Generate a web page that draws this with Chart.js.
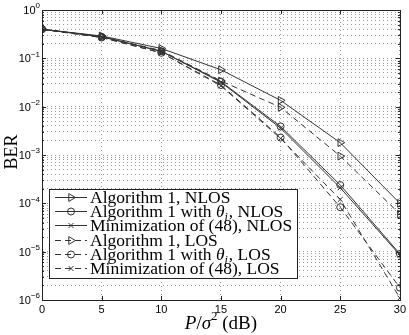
<!DOCTYPE html>
<html>
<head>
<meta charset="utf-8">
<script src="https://cdn.jsdelivr.net/npm/chart.js@4.4.0/dist/chart.umd.min.js"></script>
<style>
html,body{margin:0;padding:0;background:#fff}
canvas{display:block}
</style>
</head>
<body>
<canvas id="berchart" width="409" height="335"></canvas>
<script>
// data
const snr = [0, 5, 10, 15, 20, 25, 30]
const xTicks = [0, 5, 10, 15, 20, 25, 30]
const yTickExps = [0, -1, -2, -3, -4, -5, -6]

const alg1_nlos   = [0.40, 0.29, 0.16, 0.058, 0.0135, 0.0018, 1.0e-4]
const alg1th_nlos = [0.40, 0.28, 0.14, 0.033, 0.0039, 2.4e-4, 9.0e-6]
const min48_nlos  = [0.40, 0.28, 0.14, 0.032, 0.0036, 2.1e-4, 8.5e-6]
const alg1_los    = [0.40, 0.28, 0.145, 0.034, 0.0097, 9.5e-4, 6.0e-5]
const alg1th_los  = [0.40, 0.27, 0.13, 0.028, 0.0023, 8.3e-5, 1.8e-6]
const min48_los   = [0.40, 0.27, 0.13, 0.027, 0.0022, 1.2e-4, 1.1e-6]

const labels = [
  'Algorithm 1, NLOS',
  'Algorithm 1 with θ_i, NLOS',
  'Minimization of (48), NLOS',
  'Algorithm 1, LOS',
  'Algorithm 1 with θ_i, LOS',
  'Minimization of (48), LOS'
]

const lineCol = '#333'
const serif = '"Liberation Serif", "Times New Roman", serif'
const sans = '"Liberation Sans", Arial, sans-serif'

function pts(arr) {
  return snr.map((x, i) => ({ x: x, y: arr[i] }))
}

function makeSet(label, arr, style, dashed) {
  return {
    label: label,
    data: pts(arr),
    borderColor: lineCol,
    borderWidth: 1,
    borderDash: dashed ? [6, 4] : [],
    pointStyle: style,
    pointRotation: style === 'triangle' ? 90 : 0,
    pointRadius: style === 'triangle' ? 4.5 : 3.5,
    pointBorderWidth: 1,
    pointBorderColor: lineCol,
    pointBackgroundColor: 'rgba(0,0,0,0)',
    tension: 0,
    fill: false
  }
}

function drawMarker(ctx, style, x, y, r) {
  ctx.save()
  ctx.setLineDash([])
  ctx.strokeStyle = lineCol
  ctx.lineWidth = 1
  ctx.beginPath()
  if (style === 'triangle') {
    ctx.moveTo(x + r, y)
    ctx.lineTo(x - r / 2, y - r * 0.866)
    ctx.lineTo(x - r / 2, y + r * 0.866)
    ctx.closePath()
  } else if (style === 'circle') {
    ctx.arc(x, y, r, 0, Math.PI * 2)
  } else {
    const d = r * 0.707
    ctx.moveTo(x - d, y - d); ctx.lineTo(x + d, y + d)
    ctx.moveTo(x + d, y - d); ctx.lineTo(x - d, y + d)
  }
  ctx.stroke()
  ctx.restore()
}

function drawLabel(ctx, text, x, y) {
  const parts = text.split('θ_i')
  ctx.fillStyle = '#000'
  ctx.textAlign = 'left'
  ctx.textBaseline = 'alphabetic'
  ctx.font = '17.5px ' + serif
  ctx.fillText(parts[0], x, y)
  if (parts.length < 2) return
  x += ctx.measureText(parts[0]).width
  ctx.font = 'italic 17.5px ' + serif
  ctx.fillText('θ', x, y)
  x += ctx.measureText('θ').width
  ctx.font = 'italic 12px ' + serif
  ctx.fillText('i', x, y + 4)
  x += ctx.measureText('i').width + 1
  ctx.font = '17.5px ' + serif
  ctx.fillText(parts[1], x, y)
}

// box, inner ticks, y tick labels and axis titles
const axisDeco = {
  id: 'axisDeco',
  afterDraw(chart) {
    const ctx = chart.ctx
    const a = chart.chartArea
    const xs = chart.scales.x
    const ys = chart.scales.y
    ctx.save()
    ctx.strokeStyle = '#222'
    ctx.lineWidth = 1
    ctx.setLineDash([])
    ctx.strokeRect(Math.round(a.left) + 0.5, Math.round(a.top) + 0.5,
      Math.round(a.right - a.left), Math.round(a.bottom - a.top))

    ctx.beginPath()
    xTicks.forEach(v => {
      const px = Math.round(xs.getPixelForValue(v)) + 0.5
      ctx.moveTo(px, a.bottom); ctx.lineTo(px, a.bottom - 4)
      ctx.moveTo(px, a.top); ctx.lineTo(px, a.top + 4)
    })
    ys.ticks.forEach(t => {
      const py = Math.round(ys.getPixelForValue(t.value)) + 0.5
      const major = Math.abs(Math.log10(t.value) % 1) < 1e-9
      const len = major ? 4 : 2
      ctx.moveTo(a.left, py); ctx.lineTo(a.left + len, py)
      ctx.moveTo(a.right, py); ctx.lineTo(a.right - len, py)
    })
    ctx.stroke()

    // y tick labels 10^e
    ctx.fillStyle = '#000'
    ctx.textBaseline = 'middle'
    yTickExps.forEach(e => {
      const py = ys.getPixelForValue(Math.pow(10, e))
      const ex = e === 0 ? '0' : '\u2212' + Math.abs(e)
      ctx.font = '8px ' + sans
      const ew = ctx.measureText(ex).width
      const right = a.left - 2
      ctx.textAlign = 'left'
      ctx.fillText(ex, right - ew, py - 4)
      ctx.font = '11px ' + sans
      ctx.textAlign = 'right'
      ctx.fillText('10', right - ew, py + 1)
    })

    // y title
    ctx.save()
    ctx.translate(12, 152)
    ctx.rotate(-Math.PI / 2)
    ctx.font = '18px ' + serif
    ctx.textAlign = 'center'
    ctx.textBaseline = 'middle'
    ctx.fillText('BER', 0, 0)
    ctx.restore()

    // x title  P/σ² (dB)
    const segs = [
      ['italic 19px ' + serif, 'P', 0],
      ['19px ' + serif, '/', 0],
      ['italic 19px ' + serif, 'σ', 0],
      ['13px ' + serif, '2', -9],
      ['19px ' + serif, ' (dB)', 0]
    ]
    let tw = 0
    segs.forEach(s => { ctx.font = s[0]; tw += ctx.measureText(s[1]).width })
    let x = (a.left + a.right) / 2 - tw / 2
    ctx.textAlign = 'left'
    ctx.textBaseline = 'alphabetic'
    segs.forEach(s => {
      ctx.font = s[0]
      ctx.fillText(s[1], x, 329 + s[2])
      x += ctx.measureText(s[1]).width
    })
    ctx.restore()
  }
}

const legendBox = {
  id: 'legendBox',
  afterDraw(chart) {
    const ctx = chart.ctx
    const left = Math.round(chart.chartArea.left) + 7
    const top = 189
    const w = 248, h = 89
    ctx.save()
    ctx.fillStyle = '#fff'
    ctx.fillRect(left, top, w, h)
    ctx.strokeStyle = '#222'
    ctx.lineWidth = 1
    ctx.strokeRect(left + 0.5, top + 0.5, w, h)
    chart.data.datasets.forEach((ds, i) => {
      const base = top + 14 + i * 14.2
      const ly = Math.round(base - 6) + 0.5
      ctx.strokeStyle = lineCol
      ctx.setLineDash(ds.borderDash)
      ctx.beginPath()
      ctx.moveTo(left + 6, ly)
      ctx.lineTo(left + 38, ly)
      ctx.stroke()
      drawMarker(ctx, ds.pointStyle, left + 22, ly, ds.pointRadius)
      drawLabel(ctx, ds.label, left + 41, base)
    })
    ctx.restore()
  }
}

const ctx = document.getElementById('berchart')

const berChart = new Chart(ctx, {
  type: 'line',
  data: {
    datasets: [
      makeSet(labels[0], alg1_nlos, 'triangle', false),
      makeSet(labels[1], alg1th_nlos, 'circle', false),
      makeSet(labels[2], min48_nlos, 'crossRot', false),
      makeSet(labels[3], alg1_los, 'triangle', true),
      makeSet(labels[4], alg1th_los, 'circle', true),
      makeSet(labels[5], min48_los, 'crossRot', true)
    ]
  },
  options: {
    responsive: false,
    devicePixelRatio: 1,
    animation: false,
    layout: { padding: { top: 10, right: 7, left: 0, bottom: 0 } },
    plugins: {
      legend: { display: false },
      tooltip: { enabled: false }
    },
    scales: {
      x: {
        type: 'linear',
        min: 0,
        max: 30,
        afterBuildTicks: scale => { scale.ticks = xTicks.map(v => ({ value: v })) },
        afterFit: scale => { scale.height = 35 },
        ticks: { font: { family: sans, size: 11 }, color: '#000', padding: 3, maxRotation: 0, autoSkip: false },
        grid: { color: '#999', lineWidth: 1, drawTicks: false },
        border: { display: true, color: '#222', dash: [1, 3] }
      },
      y: {
        type: 'logarithmic',
        min: 1e-6,
        max: 1,
        afterBuildTicks: scale => {
          const t = []
          yTickExps.slice().reverse().forEach(e => {
            if (e === 0) { t.push({ value: 1 }); return }
            for (let m = 1; m <= 9; m++) t.push({ value: m * Math.pow(10, e) })
          })
          scale.ticks = t
        },
        afterFit: scale => { scale.width = 42 },
        ticks: { display: false, autoSkip: false },
        grid: { color: '#999', lineWidth: 1, drawTicks: false },
        border: { display: true, color: '#222', dash: [1, 3] }
      }
    }
  },
  plugins: [axisDeco, legendBox]
})
</script>
</body>
</html>
